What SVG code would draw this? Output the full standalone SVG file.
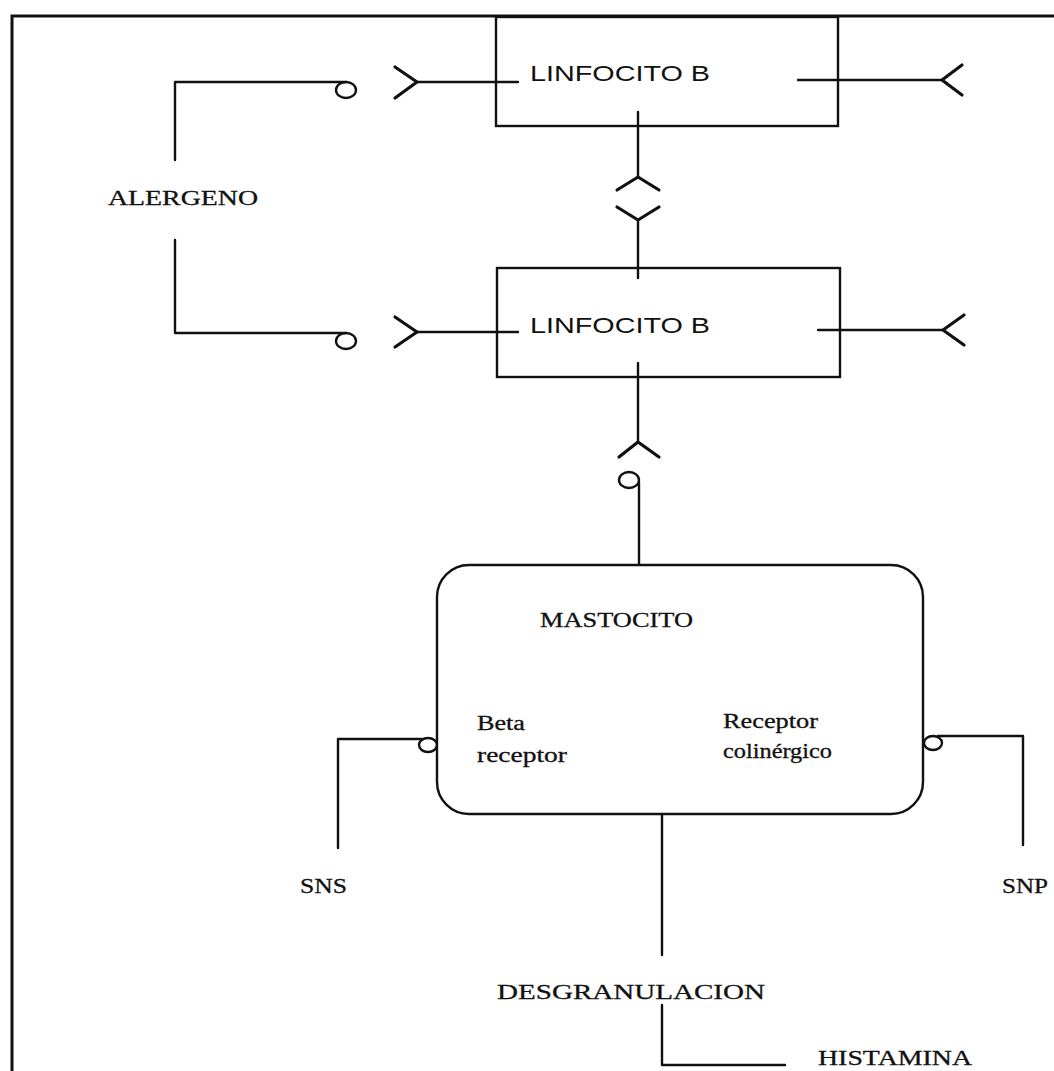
<svg xmlns="http://www.w3.org/2000/svg" width="1054" height="1071" viewBox="0 0 1054 1071">
<style>
.ln{fill:none;stroke:#111;stroke-width:2.4;stroke-linecap:round;stroke-linejoin:round}
.ch{fill:none;stroke:#111;stroke-width:3.2;stroke-linecap:round;stroke-linejoin:round}
.bx{fill:none;stroke:#111;stroke-width:2.4}
.mb{fill:#fff;stroke:#111;stroke-width:2.4}
.cir{fill:none;stroke:#111;stroke-width:2.4}
.t{font-family:"Liberation Serif","Times New Roman",serif;fill:#111;stroke:#111;stroke-width:0.3}
.ts{font-family:"Liberation Sans",Arial,sans-serif;fill:#111}
</style>
<rect width="1054" height="1071" fill="#fff"/>
<g id="frame">
<path d="M12,1071 V16 H1054" fill="none" stroke="#111" stroke-width="3"/>
</g>
<g id="connectors">
<path class="ln" d="M175,160 V82 H346"/>
<path class="ln" d="M175,240 V333 H346"/>
<ellipse class="cir" cx="346" cy="90" rx="10" ry="8"/>
<ellipse class="cir" cx="346" cy="341" rx="10" ry="8"/>
<path class="ch" d="M395,67 L417,82 L395,98"/>
<path class="ln" d="M417,82 H518"/>
<path class="ch" d="M395,317 L417,332 L395,347"/>
<path class="ln" d="M417,332 H518"/>
<path class="ln" d="M798,80 H942"/>
<path class="ch" d="M962,65 L942,80 L962,95"/>
<path class="ln" d="M818,330 H943"/>
<path class="ch" d="M964,315 L943,330 L964,345"/>
<path class="ln" d="M638,112 V177"/>
<path class="ch" d="M617,190 L638,177 L659,190"/>
<path class="ch" d="M617,207 L638,220 L659,207"/>
<path class="ln" d="M638,220 V278"/>
<path class="ln" d="M638,363 V442"/>
<path class="ch" d="M619,457 L638,442 L659,457"/>
<ellipse class="cir" cx="629" cy="480" rx="10" ry="8"/>
<path class="ln" d="M639,483 V565"/>
<path class="ln" d="M338,848 V739 H422"/>
<ellipse class="cir" cx="428" cy="745" rx="9" ry="7"/>
<path class="ln" d="M938,736 H1023 V845"/>
<ellipse class="cir" cx="933" cy="743" rx="9" ry="7"/>
<path class="ln" d="M662,813 V955"/>
<path class="ln" d="M662,1005 V1065 H785"/>
</g>
<g id="linfocito1">
<rect class="bx" x="496" y="17" width="342" height="109"/>
<text class="ts" x="530" y="81" font-size="22" textLength="180" lengthAdjust="spacingAndGlyphs">LINFOCITO B</text>
</g>
<g id="linfocito2">
<rect class="bx" x="497" y="268" width="343" height="109"/>
<text class="ts" x="530" y="333" font-size="22" textLength="180" lengthAdjust="spacingAndGlyphs">LINFOCITO B</text>
</g>
<g id="alergeno">
<text class="t" x="108" y="205" font-size="22" textLength="150" lengthAdjust="spacingAndGlyphs">ALERGENO</text>
</g>
<g id="mastocito">
<rect class="mb" x="437" y="565" width="486" height="249" rx="32" ry="32"/>
<text class="t" x="540" y="627" font-size="22" textLength="153" lengthAdjust="spacingAndGlyphs">MASTOCITO</text>
<text class="t" x="477" y="730" font-size="20" textLength="48" lengthAdjust="spacingAndGlyphs">Beta</text>
<text class="t" x="477" y="762" font-size="20" textLength="90" lengthAdjust="spacingAndGlyphs">receptor</text>
<text class="t" x="723" y="728" font-size="20" textLength="95" lengthAdjust="spacingAndGlyphs">Receptor</text>
<text class="t" x="723" y="758" font-size="20" textLength="109" lengthAdjust="spacingAndGlyphs">colinérgico</text>
</g>
<g id="sns">
<text class="t" x="300" y="893" font-size="22" textLength="47" lengthAdjust="spacingAndGlyphs">SNS</text>
</g>
<g id="snp">
<text class="t" x="1002" y="893" font-size="22" textLength="46" lengthAdjust="spacingAndGlyphs">SNP</text>
</g>
<g id="desgranulacion">
<text class="t" x="497" y="999" font-size="22" textLength="268" lengthAdjust="spacingAndGlyphs">DESGRANULACION</text>
</g>
<g id="histamina">
<text class="t" x="818" y="1065" font-size="22" textLength="154" lengthAdjust="spacingAndGlyphs">HISTAMINA</text>
</g>
</svg>
